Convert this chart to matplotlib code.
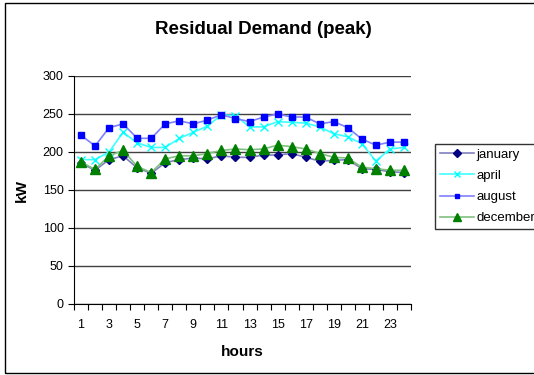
import matplotlib.pyplot as plt
import numpy as np
from matplotlib.patches import Rectangle

plt.rcParams['font.family'] = ['Liberation Sans', 'DejaVu Sans']

# hourly peak residual demand, kW
hours = list(range(1, 25))
january = [185, 176, 190, 195, 179, 172, 186, 190, 192, 191, 195, 193,
           193, 196, 196, 198, 193, 188, 189, 190, 178, 177, 174, 173]
april = [190, 190, 200, 226, 212, 206, 206, 218, 226, 234, 249, 248,
         233, 233, 240, 239, 238, 233, 224, 220, 211, 188, 204, 206]
august = [222, 208, 232, 237, 218, 218, 237, 241, 237, 242, 249, 244,
          240, 246, 250, 246, 246, 237, 240, 232, 217, 209, 213, 213]
december = [187, 177, 195, 202, 181, 173, 191, 195, 195, 198, 202, 204,
            203, 204, 209, 207, 204, 198, 193, 192, 180, 178, 176, 176]

fig = plt.figure(figsize=(5.34, 3.75), dpi=100)
ax = fig.add_axes([74 / 534, 1 - 304 / 375, 337 / 534, 228 / 375])

# outer chart border (runs off the right edge like the original)
fig.patches.append(Rectangle((5 / 534, 2 / 375), 540 / 534, 370 / 375,
                             transform=fig.transFigure, fill=False,
                             edgecolor='black', linewidth=1))

ax.plot(hours, january, color='#8080c0', marker='D', markersize=4.5,
        markerfacecolor='#000080', markeredgecolor='#000080', linewidth=1.2, label='january')
ax.plot(hours, april, color='#40ffff', marker='x', markersize=6,
        markeredgecolor='#00ffff', markeredgewidth=1, linewidth=1.2, label='april')
ax.plot(hours, august, color='#8080ff', marker='s', markersize=4,
        markerfacecolor='#0000ff', markeredgecolor='#0000ff', linewidth=1.2, label='august')
ax.plot(hours, december, color='#80c080', marker='^', markersize=6.5,
        markerfacecolor='#008000', markeredgecolor='#008000', linewidth=1.2, label='december')

ax.set_xlim(0.5, 24.5)
ax.set_ylim(0, 300)
ax.set_yticks(range(0, 301, 50))
ax.yaxis.grid(True, color='#404040', linewidth=1)
ax.set_axisbelow(True)

ax.set_xticks(np.arange(0.5, 25, 1))
ax.set_xticklabels([])
ax.set_xticks(hours[::2], minor=True)
ax.set_xticklabels([str(h) for h in hours[::2]], minor=True)
ax.tick_params(axis='x', which='minor', length=0, pad=11, labelsize=9)
ax.tick_params(axis='x', which='major', length=4, direction='out')
ax.tick_params(axis='y', length=4, direction='out', labelsize=9)

for side in ['top', 'right']:
    ax.spines[side].set_visible(False)
ax.spines['left'].set_color('black')
ax.spines['bottom'].set_color('black')

ax.set_xlabel('hours', fontsize=11, fontweight='bold', labelpad=10)
ax.set_ylabel('kW', fontsize=11, fontweight='bold', labelpad=10)
fig.text(263 / 534, 1 - 29 / 375, 'Residual Demand (peak)', ha='center', va='center',
         fontsize=13.5, fontweight='bold')

leg = ax.legend(loc='upper left', bbox_to_anchor=(435 / 534, 1 - 144 / 375),
                bbox_transform=fig.transFigure, fontsize=9.5, frameon=True,
                fancybox=False, edgecolor='black', handlelength=2.6,
                borderpad=0.35, labelspacing=0.68, handletextpad=0.2,
                borderaxespad=0, markerscale=0.8)
leg.get_frame().set_linewidth(1)

fig.savefig('out.png', dpi=100)
